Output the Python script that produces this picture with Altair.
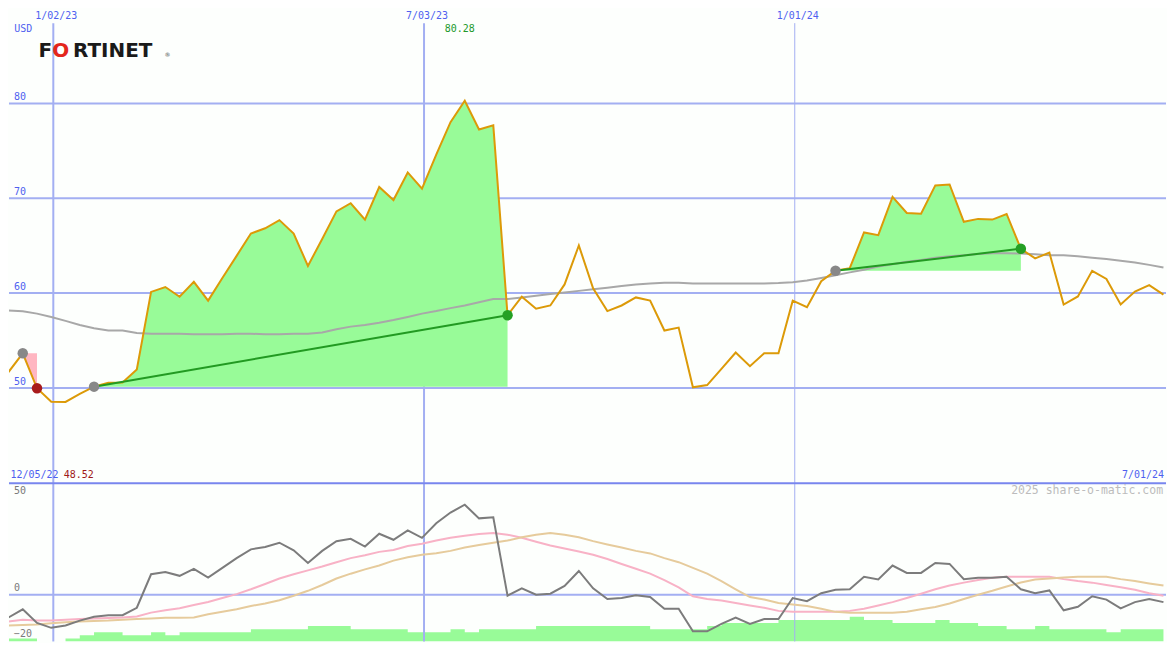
import altair as alt
import pandas as pd

# ---------------- data ----------------
price = [51.67, 53.65, 49.96, 48.55, 48.52, 49.36, 50.13, 50.54, 50.57, 51.94,
         60.12, 60.64, 59.61, 61.18, 59.20, 61.59, 63.92, 66.28, 66.83, 67.69,
         66.28, 62.86, 65.70, 68.61, 69.47, 67.75, 71.18, 69.81, 72.72, 71.01,
         74.60, 78.02, 80.28, 77.24, 77.68, 57.66, 59.61, 58.35, 58.69, 60.91,
         65.02, 60.50, 58.10, 58.69, 59.54, 59.20, 56.05, 56.36, 50.06, 50.30,
         52.01, 53.73, 52.29, 53.66, 53.66, 59.20, 58.51, 61.25, 62.35, 62.62,
         66.39, 66.11, 70.15, 68.44, 68.37, 71.35, 71.45, 67.52, 67.82, 67.75,
         68.34, 64.67, 63.65, 64.26, 58.79, 59.64, 62.35, 61.49, 58.79, 60.15,
         60.84, 59.83]
ma = [58.17, 58.07, 57.83, 57.48, 57.07, 56.63, 56.29, 56.05, 56.05, 55.78,
      55.71, 55.71, 55.71, 55.66, 55.66, 55.66, 55.71, 55.71, 55.66, 55.66,
      55.71, 55.71, 55.84, 56.19, 56.46, 56.63, 56.87, 57.15, 57.48, 57.83,
      58.10, 58.41, 58.69, 59.02, 59.37, 59.37, 59.54, 59.71, 59.89, 60.05,
      60.23, 60.40, 60.56, 60.74, 60.91, 61.02, 61.08, 61.08, 61.02, 61.02,
      61.02, 61.02, 61.00, 61.00, 61.05, 61.15, 61.32, 61.59, 61.87, 62.18,
      62.45, 62.79, 63.03, 63.31, 63.48, 63.72, 63.89, 63.99, 64.13, 64.20,
      64.20, 64.16, 64.10, 63.99, 63.99, 63.89, 63.72, 63.58, 63.41, 63.23,
      62.97, 62.69]
momentum = [-11.7, -7.5, -14.5, -17.0, -15.8, -13.3, -11.3, -10.5, -10.5, -6.7,
            10.5, 11.7, 9.7, 13.3, 8.8, 13.8, 18.8, 23.3, 24.5, 26.7,
            22.8, 16.3, 22.5, 27.5, 28.7, 24.7, 31.3, 28.2, 33.0, 29.2,
            36.7, 42.2, 46.2, 39.2, 39.8, -0.5, 3.3, 0.0, 0.5, 4.5,
            12.2, 3.3, -2.2, -1.7, -0.3, -1.2, -7.2, -7.2, -18.8, -18.8,
            -15.0, -11.7, -15.0, -12.5, -12.5, -1.7, -3.3, 0.8, 2.5, 2.8,
            9.2, 7.8, 15.0, 11.2, 11.2, 16.3, 15.8, 8.0, 8.7, 8.7,
            9.2, 2.8, 0.8, 2.2, -8.0, -6.2, -0.8, -2.5, -7.0, -3.8,
            -2.2, -3.8]
signal_fast = [-13.8, -12.8, -13.3, -13.3, -12.8, -12.5, -12.2, -12.0, -11.7, -11.2,
               -9.2, -8.0, -7.0, -5.3, -3.7, -1.7, 0.3, 2.8, 5.5, 8.3,
               10.5, 12.5, 14.5, 16.7, 18.8, 20.3, 22.0, 23.0, 25.0, 26.2,
               27.8, 29.2, 30.3, 31.2, 31.7, 30.8, 29.2, 27.2, 25.3, 23.7,
               22.2, 20.5, 18.3, 15.8, 13.3, 10.8, 7.5, 3.8, -0.8, -2.2,
               -3.0, -4.2, -5.5, -6.7, -8.3, -8.8, -8.8, -8.8, -8.8, -8.3,
               -7.2, -5.5, -3.8, -1.7, 0.5, 2.8, 4.7, 6.2, 7.5, 8.7,
               9.2, 9.2, 9.2, 9.2, 8.0, 7.0, 6.2, 5.0, 3.8, 2.5,
               0.8, -0.5]
signal_slow = [-15.8, -15.5, -15.3, -14.7, -14.2, -13.7, -13.5, -13.3, -12.8, -12.5,
               -12.2, -11.8, -11.8, -11.7, -10.0, -8.8, -7.5, -5.8, -4.5, -2.8,
               -0.5, 2.0, 5.0, 8.3, 10.8, 13.0, 15.0, 17.5, 19.2, 20.5,
               21.3, 22.5, 24.2, 25.5, 26.7, 27.8, 29.5, 30.8, 31.7, 30.8,
               29.5, 27.5, 25.8, 24.2, 22.5, 21.2, 18.8, 16.7, 13.8, 10.8,
               7.0, 2.8, -1.2, -2.5, -4.2, -5.0, -5.8, -7.2, -8.8, -9.2,
               -9.2, -9.2, -9.2, -8.7, -7.5, -6.3, -4.5, -2.2, 0.0, 2.0,
               4.2, 6.3, 7.8, 8.3, 8.8, 9.2, 9.2, 9.2, 8.0, 7.0,
               5.8, 4.7]
volume_level = [1, 1, 0, 0, 1, 2, 3, 3, 2, 2,
                3, 2, 3, 3, 3, 3, 3, 4, 4, 4,
                4, 5, 5, 5, 4, 4, 4, 4, 3, 3,
                3, 4, 3, 4, 4, 4, 4, 5, 5, 5,
                5, 5, 5, 5, 5, 4, 4, 4, 4, 5,
                6, 6, 6, 6, 7, 7, 7, 7, 7, 8,
                7, 7, 6, 6, 6, 7, 6, 6, 5, 5,
                4, 4, 5, 4, 4, 4, 4, 3, 4, 4,
                4, 4]
buy_idx = [1, 6, 58]
sell_idx = [2, 35, 71]
grid_dates = ["2023-01-02T00:00:00", "2023-07-03T00:00:00", "2024-01-01T00:00:00"]
grid_labels = ["1/02/23", "7/03/23", "1/01/24"]
grid_widths = [2, 2, 1]
price_ticks = [50, 60, 70, 80]
osc_ticks_upper = [50, 0]
osc_ticks_lower = [-20]
corner_start = "12/05/22"
corner_end = "7/01/24"
currency = "USD"
watermark = "2025 share-o-matic.com"

# ---------------- geometry / style ----------------
SX = 1159 / 1175
SY = 634 / 650
W = 1159
HT = 475
HB = 159
BG = "#fdfffd"
GRID = "#a3aff2"
BLUE = "#4f5ff0"
MONO = "DejaVu Sans Mono"
FILL_COL = {"win": "#98fb98", "loss": "#ffb6c1"}
DOT_COL = {"win": "#24a024", "loss": "#a81c1c"}

dates = list(pd.date_range("2022-12-11", periods=len(price), freq="7D").strftime("%Y-%m-%dT00:00:00"))
df = pd.DataFrame({"date": dates, "price": price, "ma": ma, "mom": momentum,
                   "fast": signal_fast, "slow": signal_slow, "vol": volume_level})

rows = []
tl_rows = []
sell_rows = []
for t, (b, s) in enumerate(zip(buy_idx, sell_idx)):
    outcome = "win" if price[s] >= price[b] else "loss"
    for k in range(b, s + 1):
        rows.append({"trade": t, "date": dates[k], "price": price[k], "base": price[b],
                     "c": FILL_COL[outcome]})
    if outcome == "win":
        tl_rows.append({"trade": t, "date": dates[b], "price": price[b]})
        tl_rows.append({"trade": t, "date": dates[s], "price": price[s]})
    sell_rows.append({"date": dates[s], "price": price[s], "c": DOT_COL[outcome]})
fill_df = pd.DataFrame(rows)
tline_df = pd.DataFrame(tl_rows)
sell_df = pd.DataFrame(sell_rows)
buy_df = pd.DataFrame({"date": [dates[b] for b in buy_idx], "price": [price[b] for b in buy_idx]})
grid_df = pd.DataFrame({"date": grid_dates, "label": grid_labels, "w": grid_widths})

xscale = alt.Scale(domain=[alt.DateTime(year=2022, month=12, date=11, hours=6),
                           alt.DateTime(year=2024, month=7, date=1, hours=6)])
X = alt.X("date:T", scale=xscale, axis=None)


def Yt(field):
    return alt.Y(f"{field}:Q", scale=alt.Scale(domain=[40, 90]), axis=None)


def Yb(field):
    return alt.Y(f"{field}:Q", scale=alt.Scale(domain=[-24, 57.5]), axis=None)


# ---------------- top panel ----------------
hgrid = alt.Chart(pd.DataFrame({"v": price_ticks})).mark_rule(color=GRID, strokeWidth=2).encode(y=Yt("v"))
vgrid_top = alt.Chart(grid_df).mark_rule(color=GRID).encode(
    x=X, y=alt.value(15 * SY), y2=alt.value(HT), strokeWidth=alt.StrokeWidth("w:Q", scale=None))
fills = alt.Chart(fill_df).mark_area(clip=True, opacity=1).encode(
    x=X, y=Yt("price"), y2="base:Q", detail="trade:N",
    color=alt.Color("c:N", scale=None))
ma_line = alt.Chart(df).mark_line(color="#a8a8a8", strokeWidth=2, clip=True).encode(x=X, y=Yt("ma"))
price_line = alt.Chart(df).mark_line(color="#dc9a08", strokeWidth=2, clip=True).encode(x=X, y=Yt("price"))
trade_lines = alt.Chart(tline_df).mark_line(color="#229a22", strokeWidth=2).encode(
    x=X, y=Yt("price"), detail="trade:N")
buy_dots = alt.Chart(buy_df).mark_circle(size=110, opacity=1, color="#888888").encode(x=X, y=Yt("price"))
sell_dots = alt.Chart(sell_df).mark_circle(size=110, opacity=1).encode(
    x=X, y=Yt("price"), color=alt.Color("c:N", scale=None))

date_text = alt.Chart(grid_df).mark_text(font=MONO, fontSize=10, color=BLUE, align="center",
                                         baseline="middle", dx=3 * SX).encode(
    x=X, y=alt.value(8 * SY), text="label:N")
ytick_text = alt.Chart(pd.DataFrame({"v": price_ticks})).mark_text(
    font=MONO, fontSize=10, color=BLUE, align="left", baseline="middle", dy=-6.4 * SY).encode(
    x=alt.value(5 * SX), y=Yt("v"), text="v:Q")
usd_text = alt.Chart(pd.DataFrame({"t": [currency]})).mark_text(
    font=MONO, fontSize=10, color=BLUE, align="center", baseline="middle").encode(
    x=alt.value(14.5 * SX), y=alt.value(21 * SY), text="t:N")
kmax = price.index(max(price))
max_text = alt.Chart(pd.DataFrame({"date": [dates[kmax]], "t": [f"{max(price):.2f}"]})).mark_text(
    font=MONO, fontSize=10, color="#22992a", align="center", baseline="middle", dx=-5 * SX).encode(
    x=X, y=alt.value(21 * SY), text="t:N")
start_text = alt.Chart(pd.DataFrame({"t": [corner_start]})).mark_text(
    font=MONO, fontSize=10, color=BLUE, align="left", baseline="middle").encode(
    x=alt.value(1.5 * SX), y=alt.value(479 * SY), text="t:N")
min_text = alt.Chart(pd.DataFrame({"t": [f"{min(price):.2f}"]})).mark_text(
    font=MONO, fontSize=10, color="#a01818", align="left", baseline="middle").encode(
    x=alt.value(55.5 * SX), y=alt.value(479 * SY), text="t:N")
end_text = alt.Chart(pd.DataFrame({"t": [corner_end]})).mark_text(
    font=MONO, fontSize=10, color=BLUE, align="right", baseline="middle").encode(
    x=alt.value(1173 * SX), y=alt.value(479 * SY), text="t:N")

logo_df = pd.DataFrame({"t": ["F", "O", "RTINET"], "c": ["#1a1a1a", "#e4261b", "#1a1a1a"],
                        "px": [30 * SX, 44 * SX, 65 * SX]})
logo = alt.Chart(logo_df).mark_text(font="DejaVu Sans", fontWeight="bold", fontSize=20,
                                    align="left", baseline="alphabetic").encode(
    x=alt.X("px:Q", scale=None, axis=None), y=alt.value(50 * SY), text="t:N",
    color=alt.Color("c:N", scale=None))
logo_r = alt.Chart(pd.DataFrame({"t": ["®"]})).mark_text(font="DejaVu Sans", fontSize=6, color="#555555",
                                                        align="left", baseline="alphabetic").encode(
    x=alt.value(158 * SX), y=alt.value(50 * SY), text="t:N")

top = alt.layer(hgrid, vgrid_top, fills, ma_line, price_line, trade_lines, buy_dots, sell_dots,
                date_text, ytick_text, usd_text, max_text, start_text, min_text, end_text, logo, logo_r
                ).properties(width=W, height=HT)

# ---------------- bottom panel ----------------
bars = alt.Chart(df).mark_area(interpolate="step-after", color="#98fb98", clip=True).encode(
    x=X, y=alt.Y("vol:Q", scale=alt.Scale(domain=[0, 51.6]), axis=None), y2=alt.value(HB))
vgrid_bot = alt.Chart(grid_df).mark_rule(color=GRID).encode(
    x=X, y=alt.value(0), y2=alt.value(HB), strokeWidth=alt.StrokeWidth("w:Q", scale=None))
zero_line = alt.Chart(pd.DataFrame({"v": [0]})).mark_rule(color=GRID, strokeWidth=2).encode(y=Yb("v"))
fast_line = alt.Chart(df).mark_line(color="#f8b2c6", strokeWidth=2, clip=True).encode(x=X, y=Yb("fast"))
slow_line = alt.Chart(df).mark_line(color="#e6cb9c", strokeWidth=2, clip=True).encode(x=X, y=Yb("slow"))
mom_line = alt.Chart(df).mark_line(color="#7c7c7c", strokeWidth=2, clip=True).encode(x=X, y=Yb("mom"))
separator = alt.Chart(pd.DataFrame({"v": [0]})).mark_rule(color="#7886ee", strokeWidth=2).encode(
    x=alt.value(0), x2=alt.value(W), y=alt.value(0.5))
osc_up = alt.Chart(pd.DataFrame({"v": osc_ticks_upper})).mark_text(
    font=MONO, fontSize=10, color="#7a7a7a", align="left", baseline="middle", dy=-6.7 * SY).encode(
    x=alt.value(5 * SX), y=Yb("v"), text="v:Q")
osc_low = alt.Chart(pd.DataFrame({"v": osc_ticks_lower})).mark_text(
    font=MONO, fontSize=10, color="#7a7a7a", align="left", baseline="middle").encode(
    x=alt.value(5 * SX), y=Yb("v"), text="v:Q")
wm = alt.Chart(pd.DataFrame({"t": [watermark]})).mark_text(
    font=MONO, fontSize=11.5, color="#bcbcbc", align="right", baseline="middle").encode(
    x=alt.value(1172 * SX), y=alt.value(9 * SY), text="t:N")

bottom = alt.layer(bars, vgrid_bot, zero_line, fast_line, slow_line, mom_line, separator,
                   osc_up, osc_low, wm).resolve_scale(y="independent").properties(width=W, height=HB)

chart = alt.vconcat(top, bottom, spacing=0, bounds="flush").properties(
    padding=0, background=BG).configure_view(stroke=None)

chart.save("out.html", embed_options={"renderer": "svg", "actions": False})
